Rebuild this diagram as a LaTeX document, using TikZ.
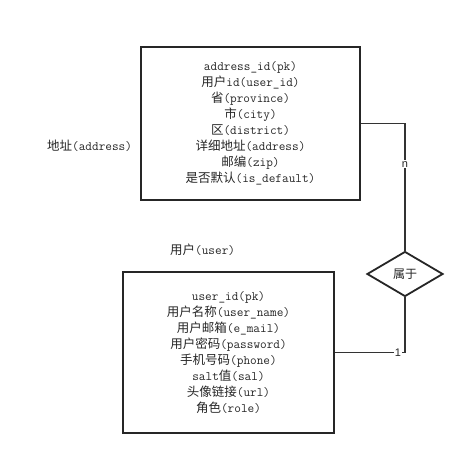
\documentclass[tikz,border=0pt]{standalone}
\usepackage{fontspec}
\newfontfamily\cjk{Noto Sans CJK SC}
\newfontfamily\lblfont{Liberation Sans}
\newcommand\zh[1]{{\cjk\fontsize{12.5pt}{16pt}\selectfont #1}}
\usetikzlibrary{shapes.geometric}
\begin{document}
\begin{tikzpicture}[x=1pt,y=-1pt,
  entity/.style={draw=black!85,line width=1.8pt,align=center,inner sep=0pt,
    font=\fontsize{12.9pt}{16pt}\selectfont\ttfamily,text=black!85},
  rel/.style={diamond,draw=black!85,line width=1.8pt,aspect=1.7,inner sep=0pt,
    minimum width=76pt,minimum height=45pt,font=\fontsize{12pt}{13pt}\selectfont\cjk,text=black!85},
  conn/.style={draw=black!80,line width=1.4pt},
  card/.style={fill=white,inner sep=1pt,font=\fontsize{11pt}{13pt}\selectfont\lblfont,text=black!85},
  caption/.style={font=\fontsize{12.9pt}{13pt}\selectfont\ttfamily,text=black!85,inner sep=0pt}]
\useasboundingbox (0,0) rectangle (475,465);
\fill[white] (0,0) rectangle (475,465);
\node[entity,minimum width=219pt,minimum height=153pt] (addr) at (250.5,123.5)
 {address\_id(pk)\\
  \zh{用户}id(user\_id)\\
  \zh{省}(province)\\
  \zh{市}(city)\\
  \zh{区}(district)\\
  \zh{详细地址}(address)\\
  \zh{邮编}(zip)\\
  \zh{是否默认}(is\_default)};
\node[entity,minimum width=211pt,minimum height=161pt] (user) at (228.5,352.5)
 {user\_id(pk)\\
  \zh{用户名称}(user\_name)\\
  \zh{用户邮箱}(e\_mail)\\
  \zh{用户密码}(password)\\
  \zh{手机号码}(phone)\\
  salt\zh{值}(sal)\\
  \zh{头像链接}(url)\\
  \zh{角色}(role)};
\node[rel] (belong) at (405,274) {属于};
\node[caption,anchor=west] (addrcap) at (47,146) {\zh{地址}(address)};
\node[caption,anchor=west] (usercap) at (170,250) {\zh{用户}(user)};
\draw[conn] (addr.east) -| (belong.north) node[card,pos=0.66] {n};
\draw[conn] (belong.south) |- (user.east) node[card,pos=0.55] {1};
\end{tikzpicture}
\end{document}
